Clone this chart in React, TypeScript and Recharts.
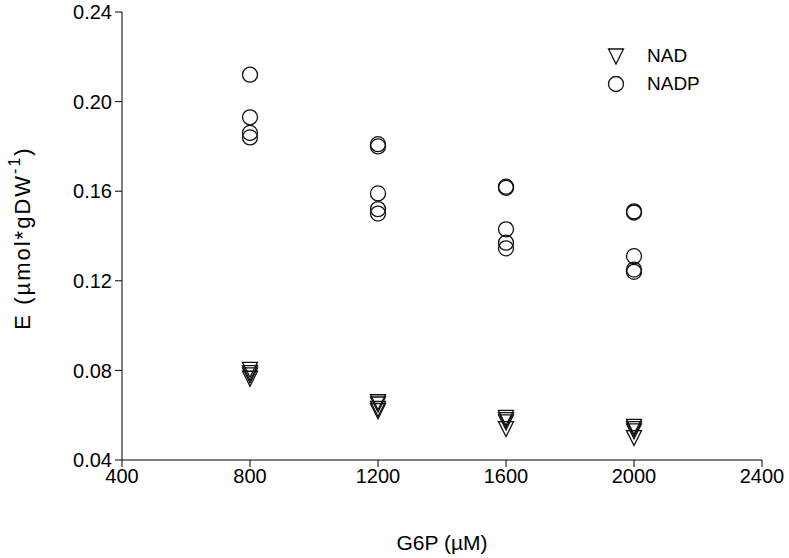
import { ScatterChart, Scatter, XAxis, YAxis } from 'recharts'

// G6P concentrations (µM) and replicate readings at each one
const g6p = [800, 1200, 1600, 2000]
const nadReps = [
  [0.0805, 0.079, 0.078, 0.0765],
  [0.066, 0.065, 0.063, 0.062],
  [0.059, 0.058, 0.057, 0.054],
  [0.055, 0.054, 0.053, 0.05],
]
const nadpReps = [
  [0.212, 0.193, 0.186, 0.184],
  [0.181, 0.18, 0.159, 0.152, 0.15],
  [0.162, 0.1615, 0.143, 0.137, 0.1345],
  [0.151, 0.1505, 0.131, 0.125, 0.124],
]
const xTicks = [400, 800, 1200, 1600, 2000, 2400]
const yTicks = [0.04, 0.08, 0.12, 0.16, 0.2, 0.24]

const toPoints = (reps: number[][]) =>
  reps.flatMap((vals, i) => vals.map(v => ({ x: g6p[i], y: v })))

const nadData = toPoints(nadReps)
const nadpData = toPoints(nadpReps)

const FONT = '"Liberation Sans", Arial, sans-serif'
const tickStyle = { fontSize: 20, fill: '#000', fontFamily: FONT }

const Circle = (props: any) => (
  <circle cx={props.cx} cy={props.cy} r={7.5} fill="none" stroke="#111" strokeWidth={1.3} />
)

const TriDown = (props: any) => {
  const { cx, cy } = props
  return (
    <path
      d={`M${cx - 7.5},${cy - 7} L${cx + 7.5},${cy - 7} L${cx},${cy + 8} Z`}
      fill="none"
      stroke="#111"
      strokeWidth={1.3}
    />
  )
}

const YLabel = (props: any) => {
  const vb = props.viewBox
  const x = 22
  const y = vb.y + vb.height / 2 + 2
  return (
    <text
      x={x}
      y={y}
      transform={`rotate(-90 ${x} ${y})`}
      textAnchor="middle"
      dominantBaseline="central"
      fontSize={22}
      letterSpacing={2}
      fontFamily={FONT}
      fill="#000"
    >
      <tspan>E (µmol*gDW</tspan>
      <tspan dy={-8} fontSize={16}>-1</tspan>
      <tspan dy={8}>)</tspan>
    </text>
  )
}

const legendItems = [
  { name: 'NAD', Icon: TriDown },
  { name: 'NADP', Icon: Circle },
]

export default function App() {
  return (
    <div style={{ position: 'absolute', left: 0, top: 0, width: 789, height: 558, background: '#fff' }}>
      <ScatterChart width={789} height={558} margin={{ top: 12, right: 27, bottom: 0, left: 0 }}>
        <XAxis
          type="number"
          dataKey="x"
          domain={[400, 2400]}
          ticks={xTicks}
          height={98}
          tickSize={7}
          tickMargin={2}
          tick={tickStyle}
          stroke="#000"
          tickLine={{ stroke: '#000' }}
          axisLine={{ stroke: '#000' }}
          label={{ value: 'G6P (µM)', position: 'insideBottom', offset: 8, fontSize: 21, fill: '#000', fontFamily: FONT }}
        />
        <YAxis
          type="number"
          dataKey="y"
          domain={[0.04, 0.24]}
          ticks={yTicks}
          width={122}
          tickSize={7}
          tickMargin={3}
          tick={tickStyle}
          tickFormatter={(v: number) => v.toFixed(2)}
          stroke="#000"
          tickLine={{ stroke: '#000' }}
          axisLine={{ stroke: '#000' }}
          label={<YLabel />}
        />
        <Scatter name="NAD" data={nadData} shape={<TriDown />} isAnimationActive={false} />
        <Scatter name="NADP" data={nadpData} shape={<Circle />} isAnimationActive={false} />
      </ScatterChart>
      <div style={{ position: 'absolute', top: 42, left: 606, fontFamily: FONT, fontSize: 19, color: '#000' }}>
        {legendItems.map(({ name, Icon }) => (
          <div key={name} style={{ display: 'flex', alignItems: 'center', height: 28 }}>
            <svg width={20} height={20} style={{ marginRight: 21 }}>
              <Icon cx={10} cy={10} />
            </svg>
            <span>{name}</span>
          </div>
        ))}
      </div>
    </div>
  )
}
